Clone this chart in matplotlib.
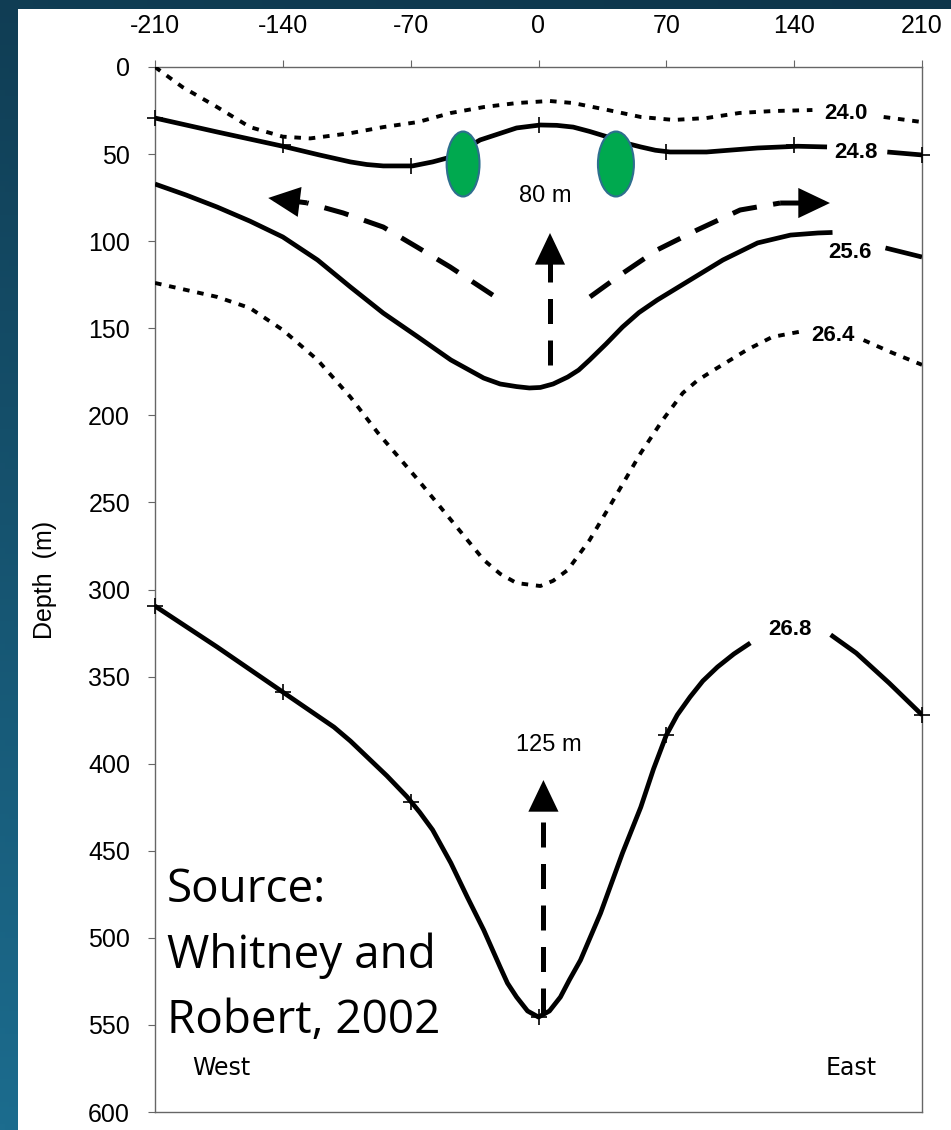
import numpy as np
import matplotlib
matplotlib.use("Agg")
import matplotlib.pyplot as plt
from matplotlib.patches import Ellipse, Rectangle

plt.rcParams['axes.unicode_minus'] = False
plt.rcParams['font.family'] = ['Liberation Sans', 'DejaVu Sans']

nan = np.nan

# ---------------- data (distance in km, depth in m) ----------------
x_ticks = [-210, -140, -70, 0, 70, 140, 210]
y_ticks = [0, 50, 100, 150, 200, 250, 300, 350, 400, 450, 500, 550, 600]

# sigma-t 24.0 isopycnal (dotted)
x24_0 = [-210, -195, -176, -158, -140, -125, -103, -85, -66, -48, -30, -12, 6, 19, 38, 56, 74, 92, 110, 128, 150, nan, 189, 210]
y24_0 = [0, 11.5, 23, 34.5, 40, 41, 38, 34.5, 31.6, 26.4, 23, 20.7, 19.5, 20.7, 24.7, 28.7, 30.4, 29.3, 26.4, 25.3, 24.7, nan, 28.7, 31.6]

# sigma-t 24.8 isopycnal (solid)
x24_8 = [-210, -176, -140, -120, -103, -94, -85, -69, -58, -48, -32, -12, 1, 10, 19, 28, 38, 47, 56, 64, 72, 92, 120, 142, 158, nan, 191, 210]
y24_8 = [29.3, 37.3, 45.5, 50.5, 54.5, 56, 56.8, 56.8, 54.5, 51.7, 41.9, 35, 33.3, 33.5, 34.5, 37, 40.2, 43.5, 45.9, 47.8, 48.8, 48.8, 46.5, 45.5, 45.9, nan, 48.8, 50.5]

# sigma-t 25.6 isopycnal (solid)
x25_6 = [-210, -193, -176, -158, -140, -121, -103, -85, -66, -48, -30, -21, -12, -5, 1, 8, 16, 22, 28, 37, 46, 55, 65, 83, 101, 120, 138, 153, 161, nan, 190, 210]
y25_6 = [67.2, 73.5, 80.4, 88.5, 97.6, 110.8, 126.3, 141.3, 155, 168.2, 178.6, 182, 183.5, 184.3, 184, 182, 178, 174, 168.2, 159, 149.3, 141, 133.8, 122.3, 110.8, 101, 96.5, 95.3, 95, nan, 103.9, 109.1]

# sigma-t 26.4 isopycnal (dotted)
x26_4 = [-210, -176, -158, -140, -121, -103, -88, -66, -48, -30, -21, -12, 1, 8, 16, 28, 41, 56, 68, 79, 87, 96, 114, 128, 143, nan, 178, 194, 210]
y26_4 = [124, 132, 138.4, 151, 168.2, 189.5, 210, 237, 260, 283, 291, 296.3, 298, 295, 288.8, 271.6, 248.6, 221.6, 202.7, 187.2, 180, 174, 162.5, 155, 152, nan, 156.8, 164.2, 171]

# sigma-t 26.8 isopycnal (solid)
x26_8 = [-210, -176, -140, -112, -103, -94, -83, -72, -65, -58, -48, -39, -30, -21, -17, -12, -6, 0, 6, 12, 17, 23, 34, 46, 56, 63, 70, 76, 83, 90, 98, 107, 116, nan, 160, 174, 192, 210]
y26_8 = [309.5, 333, 358.9, 379, 387, 396, 407, 419, 428, 438, 457, 476.6, 495.5, 516.8, 526, 534, 542, 545.5, 542, 534, 524, 512.8, 485.8, 451.3, 425, 403, 383.6, 372, 361.7, 352.5, 344.5, 337, 330.7, nan, 326, 336.5, 353.7, 372]

# station markers (+)
st24_8_x = [-210, -140, -70, 0, 70, 140, 210]
st24_8_y = [29.3, 44.8, 56.8, 33.3, 48.8, 44.8, 50.5]
st26_8_x = [-210, -140, -70, 0, 70, 210]
st26_8_y = [309.5, 358.9, 422, 545.5, 383.6, 372]

# contour labels
lab_text = ['24.0', '24.8', '25.6', '26.4', '26.8']
lab_x = [168.4, 173.6, 170.3, 161, 137.7]
lab_y = [26.7, 49.1, 106.5, 153.9, 322.7]

# dashed flow arrows (last point = arrow tip)
arr_left_x = [-25, -48.4, -66.5, -85, -107, -126.8, -148]
arr_left_y = [131, 114.8, 103.4, 91.9, 83.8, 78, 75.2]
arr_right_x = [28.2, 46.3, 65, 86.8, 110.4, 132.3, 159.6]
arr_right_y = [132, 118.3, 105, 93.6, 82.1, 78.1, 78.1]
arr_up1_x = [6.3, 6.3, 6.3]
arr_up1_y = [171, 110, 95.3]
arr_up2_x = [2.7, 2.7, 2.7]
arr_up2_y = [543, 425, 409.4]

# green ellipses (centre x, centre y, width, height)
ell_x = [-41.3, 42.4]
ell_y = [55.7, 55.7]
ell_w = [18.0, 19.7]
ell_h = [37.3, 37.3]

# ---------------- figure ----------------
W, H = 951, 1130
fig = plt.figure(figsize=(W / 100, H / 100), dpi=100)

bg = fig.add_axes([0, 0, 1, 1])
bg.set_xlim(0, 1)
bg.set_ylim(0, 1)
bg.axis('off')
yy, xx = np.mgrid[0:1:200j, 0:1:200j]
t = np.clip(0.85 * yy + 0.15 * (1 - xx), 0, 1)
top = np.array([0x0e, 0x35, 0x4a]) / 255
bot = np.array([0x1c, 0x6c, 0x8e]) / 255
img = top[None, None, :] * (1 - t[..., None]) + bot[None, None, :] * t[..., None]
bg.imshow(img, extent=[0, 1, 0, 1], origin='upper', aspect='auto')
bg.add_patch(Rectangle((18 / W, 0), 1, 1 - 9 / H, facecolor='white', edgecolor='none'))

ax = fig.add_axes([155 / W, 18 / H, (922 - 155) / W, (1112 - 67) / H])
ax.set_xlim(-210, 210)
ax.set_ylim(600, 0)
ax.set_facecolor('white')
for s in ax.spines.values():
    s.set_color('#666666')
    s.set_linewidth(1.0)

ax.xaxis.tick_top()
ax.set_xticks(x_ticks)
ax.set_xticklabels([str(v) for v in x_ticks])
ax.set_yticks(y_ticks)
ax.set_yticklabels([str(v) for v in y_ticks])
ax.tick_params(axis='x', direction='out', length=5, width=0.8, color='#666666', pad=16, labelsize=18)
ax.tick_params(axis='y', direction='out', length=5, width=0.8, color='#666666', pad=13, labelsize=18)

solid_kw = dict(color='black', lw=3.4, solid_capstyle='butt', solid_joinstyle='round', zorder=3)
dot_kw = dict(color='black', lw=2.8, linestyle=(0, (1.7, 2.0)), dash_capstyle='butt', zorder=3)

ax.plot(x24_0, y24_0, **dot_kw)
ax.plot(x24_8, y24_8, **solid_kw)
ax.plot(x25_6, y25_6, **solid_kw)
ax.plot(x26_4, y26_4, **dot_kw)
ax.plot(x26_8, y26_8, **solid_kw)

ax.plot(st24_8_x, st24_8_y, linestyle='none', marker='+', ms=12, mew=1.2, color='black', zorder=4, clip_on=False)
ax.plot(st26_8_x, st26_8_y, linestyle='none', marker='+', ms=12, mew=1.2, color='black', zorder=4, clip_on=False)

for txt, lx, ly in zip(lab_text, lab_x, lab_y):
    ax.text(lx, ly, txt, fontsize=16, fontweight='bold', ha='center', va='center', zorder=5)

dash_kw = dict(color='black', lw=3.6, linestyle=(0, (5, 3.3)), dash_capstyle='butt', zorder=3)
for axs, ays in [(arr_left_x, arr_left_y), (arr_right_x, arr_right_y),
                 (arr_up1_x, arr_up1_y), (arr_up2_x, arr_up2_y)]:
    ax.plot(axs[:-1], ays[:-1], **dash_kw)
    ax.annotate('', xy=(axs[-1], ays[-1]), xytext=(axs[-2], ays[-2]),
                arrowprops=dict(arrowstyle='-|>,head_length=1.05,head_width=0.5',
                                mutation_scale=16, color='black', lw=3.6,
                                joinstyle='miter', capstyle='butt',
                                shrinkA=0, shrinkB=0), zorder=4)

for ex, ey, ew, eh in zip(ell_x, ell_y, ell_w, ell_h):
    ax.add_patch(Ellipse((ex, ey), ew, eh, facecolor='#00A94F', edgecolor='#2E6F8E', lw=1.5, zorder=6))

ax.text(3.6, 74, '80 m', fontsize=17, ha='center', va='center', zorder=5)
ax.text(5.8, 389, '125 m', fontsize=17, ha='center', va='center', zorder=5)

ax.text(-173.9, 574.8, 'West', fontsize=17, family='DejaVu Sans', ha='center', va='center', zorder=5)
ax.text(171.4, 574.8, 'East', fontsize=17, family='DejaVu Sans', ha='center', va='center', zorder=5)

src_lines = ['Source:', 'Whitney and', 'Robert, 2002']
src_base = [479.5, 517.1, 554.7]
for s, b in zip(src_lines, src_base):
    ax.text(-203.4, b, s, fontsize=33, family='Open Sans', ha='left', va='baseline', zorder=5)

fig.text(45 / W, 1 - 580 / H, 'Depth  (m)', rotation=90, fontsize=18, ha='center', va='center')

fig.savefig('out.png', dpi=100)
